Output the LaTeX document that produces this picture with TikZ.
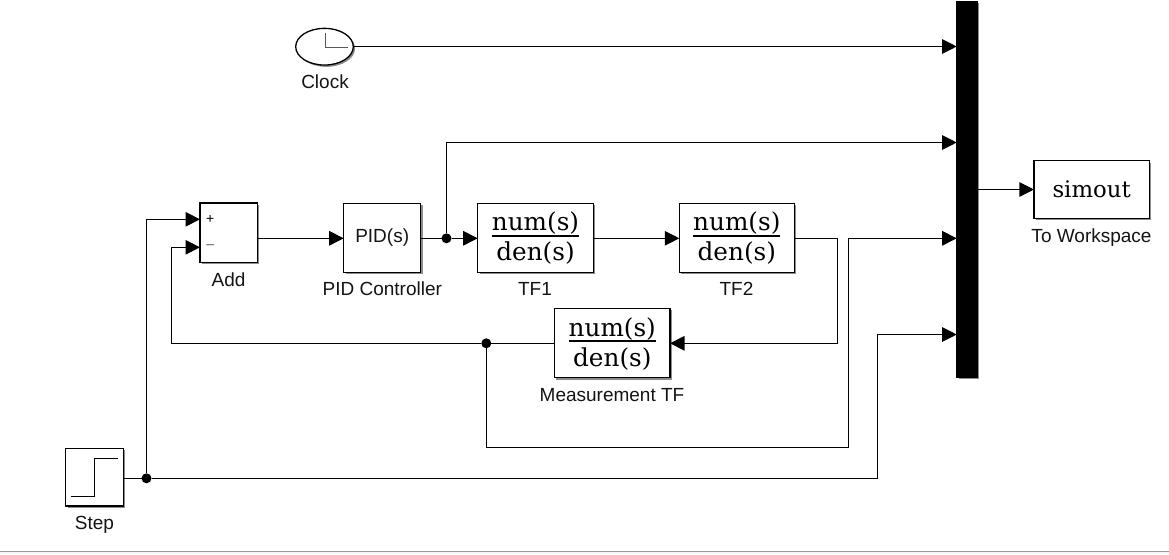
\documentclass[tikz,border=0pt]{standalone}
\usepackage{fontspec}
\setmainfont{Liberation Sans}
\newfontfamily\serifblock{DejaVu Serif}
\usetikzlibrary{arrows.meta,shapes.geometric,shadows,calc}
\newcommand{\tffrac}{\vbox{\offinterlineskip\serifblock\fontsize{24.7}{26}\selectfont
  \halign{\hfil##\hfil\cr
  \vrule height 20pt depth 4pt width 0pt num(s)\cr
  \noalign{\hrule height 1.6pt}
  \vrule height 24.3pt depth 3.9pt width 0pt den(s)\cr}}}
\tikzset{
  x=1pt,y=-1pt,
  blockshadow/.style={general shadow={fill=black!45,shadow xshift=1.8pt,shadow yshift=-1.8pt}},
  blockbox/.style={draw=black,line width=1.3pt,fill=white,rectangle,inner sep=0pt,outer sep=0pt,blockshadow},
  blocklabel/.style={font=\fontsize{19}{21}\selectfont,text=black!92,inner sep=0pt},
  wire/.style={draw=black,line width=1.1pt},
  sig/.style={wire,-{Triangle[length=14.5pt,width=14.5pt]}},
  junction/.style={circle,fill=black,minimum size=10pt,inner sep=0pt,outer sep=0pt},
}
\begin{document}
\begin{tikzpicture}
\useasboundingbox (0,0) rectangle (1169,554);
\fill[black!4] (0,551.5) rectangle (1169,554);
\draw[black!40,line width=1pt] (0,551.5) -- (1169,551.5);

% blocks
\node[blockbox,minimum width=57.6pt,minimum height=57.6pt] (step) at (94.5,477.2) {};
\draw[wire,line width=1pt] (71.3,496.3) -- (94.7,496.3) -- (94.7,458.3) -- (117.7,458.3);
\node[blockbox,minimum width=57.6pt,minimum height=59.2pt] (add) at (228.8,232.7) {};
\node[font=\fontsize{14}{14}\selectfont,inner sep=0pt] (plus) at (210.3,219) {+};
\node[font=\fontsize{16}{16}\selectfont,inner sep=0pt,text=black!55] (minus) at (210.3,247.3) {−};
\node[blockbox,minimum width=77pt,minimum height=69pt,font=\fontsize{19}{21}\selectfont,text=black!92] (pid) at (382.2,237.8) {PID(s)};
\node[blockbox,minimum width=115.6pt,minimum height=69pt] (tfa) at (535.5,237.8) {\tffrac};
\node[blockbox,minimum width=115pt,minimum height=69pt] (tfb) at (736.8,237.8) {\tffrac};
\node[blockbox,minimum width=115.3pt,minimum height=69.4pt] (meas) at (612.3,343) {\tffrac};
\node[blockbox,draw=black,ellipse,minimum width=57.6pt,minimum height=36.7pt] (clock) at (324.5,46.7) {};
\draw[black!65,line width=1pt] (325,33) -- (325,47) -- (348,47);
\node[blockbox,fill=black,minimum width=20pt,minimum height=376pt] (mux) at (967,189.5) {};
\node[blockbox,minimum width=115.3pt,minimum height=57.6pt,font=\serifblock\fontsize{22.8}{24}\selectfont] (sim) at (1091.6,189.5) {simout};

% labels
\node[blocklabel] (lstep) at (94.5,524.5) {Step};
\node[blocklabel] (ladd) at (228.5,280) {Add};
\node[blocklabel] (lpid) at (382.3,289) {PID Controller};
\node[blocklabel] (ltfa) at (535,288.5) {TF1};
\node[blocklabel] (ltfb) at (736.5,288.5) {TF2};
\node[blocklabel] (lmeas) at (612,395) {Measurement TF};
\node[blocklabel] (lclock) at (325,81.5) {Clock};
\node[blocklabel] (lsim) at (1091.5,237.5) {To Workspace};

% ports and bends
\coordinate (addp) at (200,219.3);
\coordinate (addm) at (200,247.3);
\coordinate (muxa) at (956.7,46.5);
\coordinate (muxb) at (956.7,142.5);
\coordinate (muxc) at (956.7,238.3);
\coordinate (muxd) at (956.7,334.5);
\coordinate (tfbout) at (794.3,238.3);
\coordinate (measin) at (670,343.3);
\coordinate (measout) at (554.7,343.3);
\coordinate (bendm) at (837.7,238.3);
\coordinate (bendn) at (837.7,343.3);
\coordinate (stepout) at (123.3,478.3);
\coordinate (pidout) at (420.7,238.3);

\node[junction] (ja) at (146.5,478.3) {};
\node[junction] (jb) at (446.5,238.3) {};
\node[junction] (jc) at (486.3,343.3) {};

% connectors
\draw[sig] (clock.east |- muxa) -- (muxa);
\draw[wire] (stepout) -- (ja);
\draw[sig] (ja) |- (addp);
\draw[sig] (ja) -- (877.6,478.3) |- (muxd);
\draw[sig] (add.east |- pidout) -- (pid.west |- pidout);
\draw[wire] (pidout) -- (jb);
\draw[sig] (jb) -- (tfa.west |- pidout);
\draw[sig] (jb) |- (muxb);
\draw[sig] (tfa.east |- pidout) -- (tfb.west |- pidout);
\draw[wire] (tfbout) -- (bendm) -- (bendn);
\draw[sig] (bendn) -- (measin);
\draw[wire] (measout) -- (jc);
\draw[sig] (jc) -- (171.5,343.3) |- (addm);
\draw[sig] (jc) |- (848.3,447.5) |- (muxc);
\draw[sig] (mux.east |- sim.west) -- (sim.west);
\end{tikzpicture}
\end{document}
